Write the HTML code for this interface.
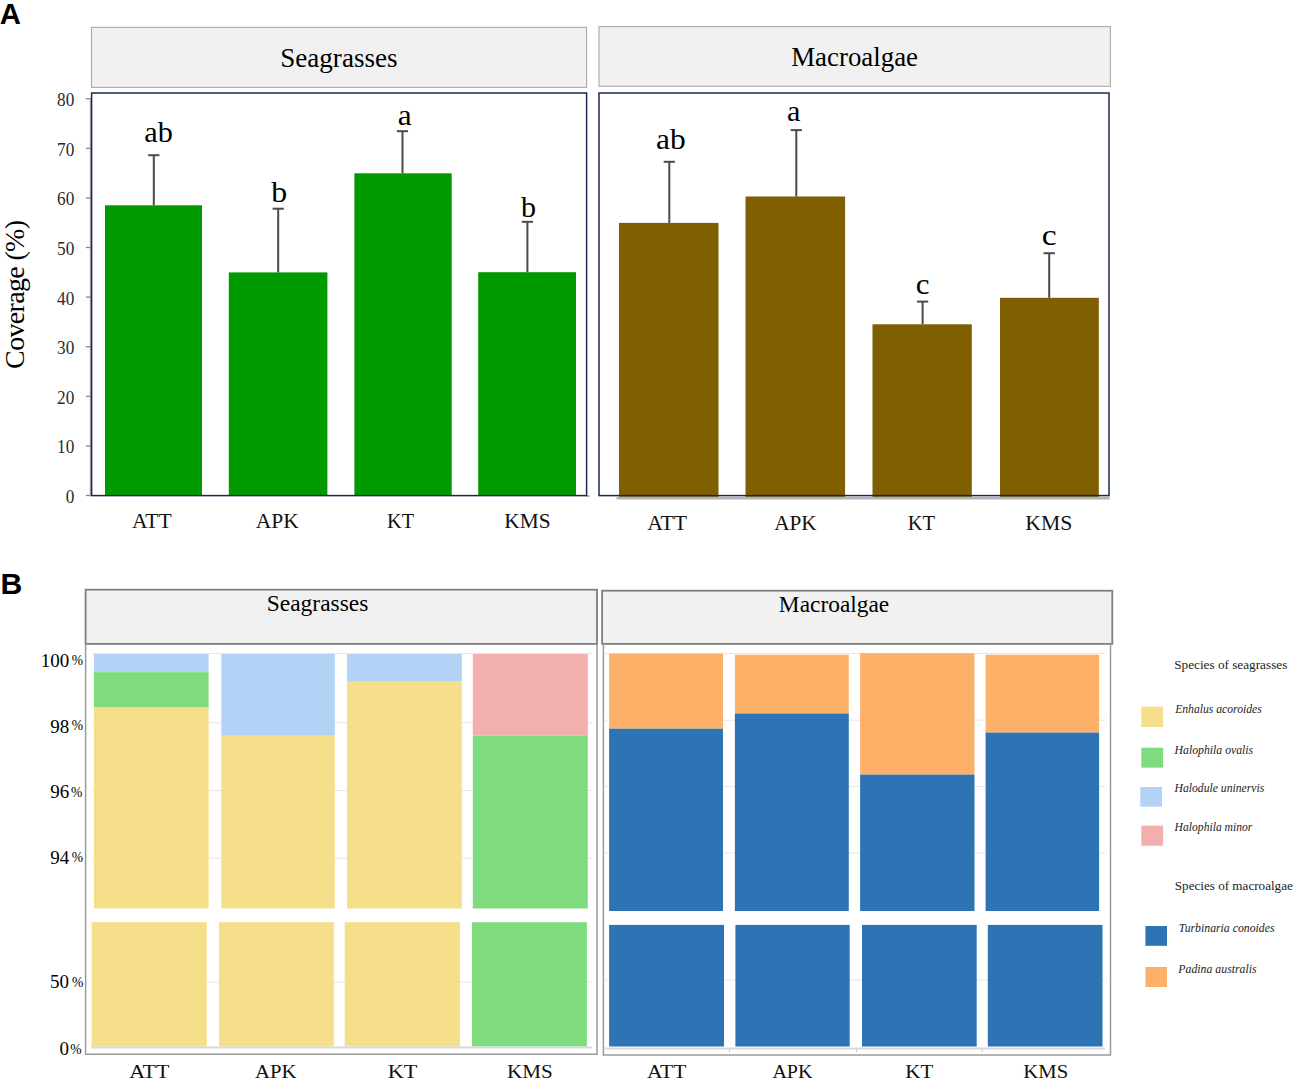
<!DOCTYPE html>
<html><head><meta charset="utf-8"><title>Figure</title>
<style>
html,body{margin:0;padding:0;background:#fff;}
body{width:1295px;height:1082px;overflow:hidden;font-family:"Liberation Serif",serif;}
svg{display:block;}
</style></head>
<body>
<svg width="1295" height="1082" viewBox="0 0 1295 1082">
<rect x="0" y="0" width="1295" height="1082" fill="#fff"/>
<text x="-0.30" y="24.10" font-family="'Liberation Sans', sans-serif" font-size="29.3" fill="#000" text-anchor="start" font-weight="bold">A</text>
<rect x="91.50" y="27.40" width="495.10" height="60.00" fill="#f1f1f1" stroke="#aca8a8" stroke-width="1.1"/>
<rect x="599.00" y="26.60" width="511.40" height="59.70" fill="#f1f1f1" stroke="#aca8a8" stroke-width="1.1"/>
<text id="s0" x="280.32" y="67.10" font-family="'Liberation Serif', serif" font-size="27.3" fill="#000" text-anchor="start"  textLength="117.15" lengthAdjust="spacingAndGlyphs">Seagrasses</text>
<text id="s1" x="791.19" y="66.20" font-family="'Liberation Serif', serif" font-size="27.1" fill="#000" text-anchor="start"  textLength="126.87" lengthAdjust="spacingAndGlyphs">Macroalgae</text>
<line x1="90.30" y1="98.50" x2="90.30" y2="496.00" stroke="#999" stroke-width="1" />
<line x1="85.80" y1="495.50" x2="90.50" y2="495.50" stroke="#888" stroke-width="1.3" />
<text transform="translate(74.3,502.90) scale(0.87,1)" font-family="'Liberation Serif', serif" font-size="19.8" fill="#2a2a2a" text-anchor="end">0</text>
<line x1="85.80" y1="445.90" x2="90.50" y2="445.90" stroke="#888" stroke-width="1.3" />
<text transform="translate(74.3,453.30) scale(0.87,1)" font-family="'Liberation Serif', serif" font-size="19.8" fill="#2a2a2a" text-anchor="end">10</text>
<line x1="85.80" y1="396.30" x2="90.50" y2="396.30" stroke="#888" stroke-width="1.3" />
<text transform="translate(74.3,403.70) scale(0.87,1)" font-family="'Liberation Serif', serif" font-size="19.8" fill="#2a2a2a" text-anchor="end">20</text>
<line x1="85.80" y1="346.70" x2="90.50" y2="346.70" stroke="#888" stroke-width="1.3" />
<text transform="translate(74.3,354.10) scale(0.87,1)" font-family="'Liberation Serif', serif" font-size="19.8" fill="#2a2a2a" text-anchor="end">30</text>
<line x1="85.80" y1="297.10" x2="90.50" y2="297.10" stroke="#888" stroke-width="1.3" />
<text transform="translate(74.3,304.50) scale(0.87,1)" font-family="'Liberation Serif', serif" font-size="19.8" fill="#2a2a2a" text-anchor="end">40</text>
<line x1="85.80" y1="247.50" x2="90.50" y2="247.50" stroke="#888" stroke-width="1.3" />
<text transform="translate(74.3,254.90) scale(0.87,1)" font-family="'Liberation Serif', serif" font-size="19.8" fill="#2a2a2a" text-anchor="end">50</text>
<line x1="85.80" y1="197.90" x2="90.50" y2="197.90" stroke="#888" stroke-width="1.3" />
<text transform="translate(74.3,205.30) scale(0.87,1)" font-family="'Liberation Serif', serif" font-size="19.8" fill="#2a2a2a" text-anchor="end">60</text>
<line x1="85.80" y1="148.30" x2="90.50" y2="148.30" stroke="#888" stroke-width="1.3" />
<text transform="translate(74.3,155.70) scale(0.87,1)" font-family="'Liberation Serif', serif" font-size="19.8" fill="#2a2a2a" text-anchor="end">70</text>
<line x1="85.80" y1="98.70" x2="90.50" y2="98.70" stroke="#888" stroke-width="1.3" />
<text transform="translate(74.3,106.10) scale(0.87,1)" font-family="'Liberation Serif', serif" font-size="19.8" fill="#2a2a2a" text-anchor="end">80</text>
<text transform="translate(23.9,294.4) rotate(-90)" font-family="'Liberation Serif', serif" font-size="28" fill="#000" text-anchor="middle" textLength="149" lengthAdjust="spacing">Coverage (%)</text>
<rect x="105.00" y="205.30" width="97.00" height="290.20" fill="#009900" />
<line x1="153.80" y1="205.30" x2="153.80" y2="155.20" stroke="#4a4a4a" stroke-width="2" />
<line x1="148.20" y1="155.20" x2="159.40" y2="155.20" stroke="#4a4a4a" stroke-width="2" />
<text id="l0" x="144.27" y="142.00" font-family="'Liberation Serif', serif" font-size="30" fill="#000" text-anchor="start"  textLength="28.56" lengthAdjust="spacingAndGlyphs">ab</text>
<rect x="228.80" y="272.40" width="98.60" height="223.10" fill="#009900" />
<line x1="278.20" y1="272.40" x2="278.20" y2="208.70" stroke="#4a4a4a" stroke-width="2" />
<line x1="272.60" y1="208.70" x2="283.80" y2="208.70" stroke="#4a4a4a" stroke-width="2" />
<text id="l1" x="271.15" y="202.00" font-family="'Liberation Serif', serif" font-size="30" fill="#000" text-anchor="start"  textLength="15.93" lengthAdjust="spacingAndGlyphs">b</text>
<rect x="354.40" y="173.30" width="97.30" height="322.20" fill="#009900" />
<line x1="402.50" y1="173.30" x2="402.50" y2="131.20" stroke="#4a4a4a" stroke-width="2" />
<line x1="396.90" y1="131.20" x2="408.10" y2="131.20" stroke="#4a4a4a" stroke-width="2" />
<text id="l2" x="397.85" y="124.50" font-family="'Liberation Serif', serif" font-size="30" fill="#000" text-anchor="start"  textLength="13.95" lengthAdjust="spacingAndGlyphs">a</text>
<rect x="478.20" y="272.20" width="97.80" height="223.30" fill="#009900" />
<line x1="527.40" y1="272.20" x2="527.40" y2="221.80" stroke="#4a4a4a" stroke-width="2" />
<line x1="521.80" y1="221.80" x2="533.00" y2="221.80" stroke="#4a4a4a" stroke-width="2" />
<text id="l3" x="521.01" y="216.50" font-family="'Liberation Serif', serif" font-size="30" fill="#000" text-anchor="start"  textLength="15.04" lengthAdjust="spacingAndGlyphs">b</text>
<line x1="586.00" y1="496.00" x2="589.60" y2="496.00" stroke="#a0a0a0" stroke-width="1.4" />
<rect x="91.60" y="93.00" width="495.00" height="402.60" fill="none" stroke="#172850" stroke-width="1.5"/>
<line x1="616.50" y1="498.30" x2="1109.50" y2="498.30" stroke="#b3b3b3" stroke-width="2.4" />
<rect x="619.00" y="222.90" width="99.50" height="273.90" fill="#7f5f00" />
<line x1="669.30" y1="222.90" x2="669.30" y2="161.80" stroke="#4a4a4a" stroke-width="2" />
<line x1="663.70" y1="161.80" x2="674.90" y2="161.80" stroke="#4a4a4a" stroke-width="2" />
<text id="l4" x="656.02" y="149.00" font-family="'Liberation Serif', serif" font-size="30" fill="#000" text-anchor="start"  textLength="29.62" lengthAdjust="spacingAndGlyphs">ab</text>
<rect x="745.50" y="196.50" width="99.60" height="300.30" fill="#7f5f00" />
<line x1="796.30" y1="196.50" x2="796.30" y2="130.10" stroke="#4a4a4a" stroke-width="2" />
<line x1="790.70" y1="130.10" x2="801.90" y2="130.10" stroke="#4a4a4a" stroke-width="2" />
<text id="l5" x="787.05" y="120.50" font-family="'Liberation Serif', serif" font-size="30" fill="#000" text-anchor="start"  textLength="13.40" lengthAdjust="spacingAndGlyphs">a</text>
<rect x="872.50" y="324.30" width="99.30" height="172.50" fill="#7f5f00" />
<line x1="922.60" y1="324.30" x2="922.60" y2="301.60" stroke="#4a4a4a" stroke-width="2" />
<line x1="917.00" y1="301.60" x2="928.20" y2="301.60" stroke="#4a4a4a" stroke-width="2" />
<text id="l6" x="915.85" y="293.60" font-family="'Liberation Serif', serif" font-size="30" fill="#000" text-anchor="start"  textLength="13.74" lengthAdjust="spacingAndGlyphs">c</text>
<rect x="1000.00" y="297.80" width="98.80" height="199.00" fill="#7f5f00" />
<line x1="1049.20" y1="297.80" x2="1049.20" y2="253.20" stroke="#4a4a4a" stroke-width="2" />
<line x1="1043.60" y1="253.20" x2="1054.80" y2="253.20" stroke="#4a4a4a" stroke-width="2" />
<text id="l7" x="1041.69" y="245.00" font-family="'Liberation Serif', serif" font-size="30" fill="#000" text-anchor="start"  textLength="14.81" lengthAdjust="spacingAndGlyphs">c</text>
<rect x="599.00" y="93.00" width="510.00" height="402.60" fill="none" stroke="#172850" stroke-width="1.5"/>
<text id="ax0" x="132.10" y="527.90" font-family="'Liberation Serif', serif" font-size="20.5" fill="#111" text-anchor="start"  textLength="39.49" lengthAdjust="spacingAndGlyphs">ATT</text>
<text id="ax1" x="255.69" y="527.90" font-family="'Liberation Serif', serif" font-size="20.5" fill="#111" text-anchor="start"  textLength="43.10" lengthAdjust="spacingAndGlyphs">APK</text>
<text id="ax2" x="387.00" y="527.90" font-family="'Liberation Serif', serif" font-size="20.5" fill="#111" text-anchor="start"  textLength="27.02" lengthAdjust="spacingAndGlyphs">KT</text>
<text id="ax3" x="504.24" y="527.90" font-family="'Liberation Serif', serif" font-size="20.5" fill="#111" text-anchor="start"  textLength="46.27" lengthAdjust="spacingAndGlyphs">KMS</text>
<text id="ax4" x="647.22" y="530.00" font-family="'Liberation Serif', serif" font-size="20.5" fill="#111" text-anchor="start"  textLength="39.87" lengthAdjust="spacingAndGlyphs">ATT</text>
<text id="ax5" x="774.22" y="530.00" font-family="'Liberation Serif', serif" font-size="20.5" fill="#111" text-anchor="start"  textLength="42.48" lengthAdjust="spacingAndGlyphs">APK</text>
<text id="ax6" x="907.66" y="530.00" font-family="'Liberation Serif', serif" font-size="20.5" fill="#111" text-anchor="start"  textLength="27.39" lengthAdjust="spacingAndGlyphs">KT</text>
<text id="ax7" x="1025.38" y="530.00" font-family="'Liberation Serif', serif" font-size="20.5" fill="#111" text-anchor="start"  textLength="46.97" lengthAdjust="spacingAndGlyphs">KMS</text>
<text x="0.40" y="594.30" font-family="'Liberation Sans', sans-serif" font-size="30.2" fill="#000" text-anchor="start" font-weight="bold">B</text>
<rect x="85.60" y="589.70" width="511.40" height="54.20" fill="#f1f1f1" stroke="#7f7f7f" stroke-width="1.8"/>
<rect x="602.10" y="590.70" width="510.20" height="53.20" fill="#f1f1f1" stroke="#7f7f7f" stroke-width="1.8"/>
<text id="s2" x="266.78" y="611.30" font-family="'Liberation Serif', serif" font-size="23.2" fill="#000" text-anchor="start"  textLength="101.58" lengthAdjust="spacingAndGlyphs">Seagrasses</text>
<text id="s3" x="778.89" y="612.40" font-family="'Liberation Serif', serif" font-size="23.1" fill="#000" text-anchor="start"  textLength="110.32" lengthAdjust="spacingAndGlyphs">Macroalgae</text>
<line x1="92.00" y1="653.50" x2="592.00" y2="653.50" stroke="#e6e6e6" stroke-width="1" />
<line x1="92.00" y1="722.80" x2="592.00" y2="722.80" stroke="#e6e6e6" stroke-width="1" />
<line x1="92.00" y1="790.60" x2="592.00" y2="790.60" stroke="#e6e6e6" stroke-width="1" />
<line x1="92.00" y1="858.20" x2="592.00" y2="858.20" stroke="#e6e6e6" stroke-width="1" />
<line x1="92.00" y1="982.00" x2="592.00" y2="982.00" stroke="#e6e6e6" stroke-width="1" />
<line x1="605.00" y1="653.50" x2="1105.00" y2="653.50" stroke="#e6e6e6" stroke-width="1" />
<line x1="605.00" y1="720.20" x2="1105.00" y2="720.20" stroke="#e6e6e6" stroke-width="1" />
<line x1="605.00" y1="786.60" x2="1105.00" y2="786.60" stroke="#e6e6e6" stroke-width="1" />
<line x1="605.00" y1="853.00" x2="1105.00" y2="853.00" stroke="#e6e6e6" stroke-width="1" />
<line x1="605.00" y1="980.00" x2="1105.00" y2="980.00" stroke="#e6e6e6" stroke-width="1" />
<line x1="729.40" y1="1048.00" x2="729.40" y2="1052.50" stroke="#c8c8c8" stroke-width="1" />
<line x1="856.60" y1="1048.00" x2="856.60" y2="1052.50" stroke="#c8c8c8" stroke-width="1" />
<line x1="982.10" y1="1048.00" x2="982.10" y2="1052.50" stroke="#c8c8c8" stroke-width="1" />
<rect x="93.90" y="654.00" width="114.70" height="18.20" fill="#b3d3f6" />
<rect x="93.90" y="672.20" width="114.70" height="35.30" fill="#7edc7e" />
<rect x="93.90" y="707.50" width="114.70" height="201.00" fill="#f6df8a" />
<rect x="91.70" y="922.20" width="115.00" height="124.30" fill="#f6df8a" />
<rect x="221.30" y="654.00" width="113.50" height="81.70" fill="#b3d3f6" />
<rect x="221.30" y="735.70" width="113.50" height="172.80" fill="#f6df8a" />
<rect x="219.00" y="922.20" width="114.80" height="124.30" fill="#f6df8a" />
<rect x="347.00" y="654.00" width="114.80" height="27.00" fill="#b3d3f6" />
<rect x="347.00" y="681.00" width="114.80" height="227.50" fill="#f6df8a" />
<rect x="344.70" y="922.20" width="115.20" height="124.30" fill="#f6df8a" />
<rect x="472.80" y="654.00" width="115.00" height="81.70" fill="#f3aeae" />
<rect x="472.80" y="735.70" width="115.00" height="172.80" fill="#7edc7e" />
<rect x="472.00" y="922.20" width="114.90" height="124.30" fill="#7edc7e" />
<line x1="91.00" y1="1047.60" x2="592.00" y2="1047.60" stroke="#d9d9d9" stroke-width="2" />
<rect x="609.10" y="653.70" width="113.90" height="75.00" fill="#fdb068" />
<rect x="609.10" y="728.70" width="113.90" height="182.30" fill="#2e74b5" />
<rect x="609.10" y="924.90" width="114.90" height="121.60" fill="#2e74b5" />
<rect x="734.90" y="654.70" width="113.90" height="58.80" fill="#fdb068" />
<rect x="734.90" y="713.50" width="113.90" height="197.50" fill="#2e74b5" />
<rect x="735.40" y="924.90" width="114.30" height="121.60" fill="#2e74b5" />
<rect x="860.10" y="653.20" width="114.40" height="121.40" fill="#fdb068" />
<rect x="860.10" y="774.60" width="114.40" height="136.40" fill="#2e74b5" />
<rect x="862.00" y="924.90" width="114.70" height="121.60" fill="#2e74b5" />
<rect x="985.60" y="654.70" width="113.50" height="77.90" fill="#fdb068" />
<rect x="985.60" y="732.60" width="113.50" height="178.40" fill="#2e74b5" />
<rect x="987.80" y="924.90" width="114.70" height="121.60" fill="#2e74b5" />
<line x1="605.00" y1="1048.60" x2="1105.00" y2="1048.60" stroke="#d9d9d9" stroke-width="2" />
<polyline points="85.6,643.9 85.6,1054.2 597.0,1054.2 597.0,643.9" fill="none" stroke="#9a9a9a" stroke-width="1.5"/>
<polyline points="603.4,643.9 603.4,1055.0 1110.5,1055.0 1110.5,643.9" fill="none" stroke="#9a9a9a" stroke-width="1.5"/>
<text x="69.30" y="666.80" font-family="'Liberation Serif', serif" font-size="19" fill="#000" text-anchor="end" >100</text>
<text x="71.70" y="665.40" font-family="'Liberation Serif', serif" font-size="13.6" fill="#000" text-anchor="start" >%</text>
<text x="69.30" y="732.80" font-family="'Liberation Serif', serif" font-size="19" fill="#000" text-anchor="end" >98</text>
<text x="71.70" y="730.40" font-family="'Liberation Serif', serif" font-size="13.6" fill="#000" text-anchor="start" >%</text>
<text x="69.30" y="797.70" font-family="'Liberation Serif', serif" font-size="19" fill="#000" text-anchor="end" >96</text>
<text x="70.90" y="797.40" font-family="'Liberation Serif', serif" font-size="13.6" fill="#000" text-anchor="start" >%</text>
<text x="69.30" y="863.50" font-family="'Liberation Serif', serif" font-size="19" fill="#000" text-anchor="end" >94</text>
<text x="71.70" y="862.20" font-family="'Liberation Serif', serif" font-size="13.6" fill="#000" text-anchor="start" >%</text>
<text x="69.00" y="987.80" font-family="'Liberation Serif', serif" font-size="19" fill="#000" text-anchor="end" >50</text>
<text x="72.00" y="986.80" font-family="'Liberation Serif', serif" font-size="13.6" fill="#000" text-anchor="start" >%</text>
<text x="69.00" y="1054.70" font-family="'Liberation Serif', serif" font-size="19" fill="#000" text-anchor="end" >0</text>
<text x="70.30" y="1054.00" font-family="'Liberation Serif', serif" font-size="13.6" fill="#000" text-anchor="start" >%</text>
<text id="bx0" x="129.20" y="1077.80" font-family="'Liberation Serif', serif" font-size="18.8" fill="#111" text-anchor="start"  textLength="40.26" lengthAdjust="spacingAndGlyphs">ATT</text>
<text id="bx1" x="255.09" y="1077.80" font-family="'Liberation Serif', serif" font-size="18.8" fill="#111" text-anchor="start"  textLength="41.41" lengthAdjust="spacingAndGlyphs">APK</text>
<text id="bx2" x="387.74" y="1077.80" font-family="'Liberation Serif', serif" font-size="18.8" fill="#111" text-anchor="start"  textLength="29.72" lengthAdjust="spacingAndGlyphs">KT</text>
<text id="bx3" x="506.96" y="1077.80" font-family="'Liberation Serif', serif" font-size="18.8" fill="#111" text-anchor="start"  textLength="45.72" lengthAdjust="spacingAndGlyphs">KMS</text>
<text id="bx4" x="646.90" y="1077.80" font-family="'Liberation Serif', serif" font-size="18.8" fill="#111" text-anchor="start"  textLength="39.40" lengthAdjust="spacingAndGlyphs">ATT</text>
<text id="bx5" x="772.40" y="1077.80" font-family="'Liberation Serif', serif" font-size="18.8" fill="#111" text-anchor="start"  textLength="40.10" lengthAdjust="spacingAndGlyphs">APK</text>
<text id="bx6" x="905.29" y="1077.80" font-family="'Liberation Serif', serif" font-size="18.8" fill="#111" text-anchor="start"  textLength="27.92" lengthAdjust="spacingAndGlyphs">KT</text>
<text id="bx7" x="1023.36" y="1077.80" font-family="'Liberation Serif', serif" font-size="18.8" fill="#111" text-anchor="start"  textLength="44.89" lengthAdjust="spacingAndGlyphs">KMS</text>
<text id="g0" x="1174.19" y="669.20" font-family="'Liberation Serif', serif" font-size="13.1" fill="#222" text-anchor="start"  textLength="113.12" lengthAdjust="spacingAndGlyphs">Species of seagrasses</text>
<rect x="1141.30" y="706.70" width="21.80" height="20.30" fill="#f6df8a" />
<text id="g1" x="1175.18" y="712.80" font-family="'Liberation Serif', serif" font-size="11.5" fill="#222" text-anchor="start" font-style="italic" textLength="86.53" lengthAdjust="spacingAndGlyphs">Enhalus acoroides</text>
<rect x="1141.30" y="747.70" width="21.80" height="19.90" fill="#7edc7e" />
<text id="g2" x="1174.59" y="753.80" font-family="'Liberation Serif', serif" font-size="11.5" fill="#222" text-anchor="start" font-style="italic" textLength="78.62" lengthAdjust="spacingAndGlyphs">Halophila ovalis</text>
<rect x="1140.30" y="787.00" width="21.70" height="19.70" fill="#b3d3f6" />
<text id="g3" x="1174.59" y="792.40" font-family="'Liberation Serif', serif" font-size="11.5" fill="#222" text-anchor="start" font-style="italic" textLength="89.61" lengthAdjust="spacingAndGlyphs">Halodule uninervis</text>
<rect x="1141.30" y="825.60" width="21.80" height="20.10" fill="#f3aeae" />
<text id="g4" x="1174.59" y="831.00" font-family="'Liberation Serif', serif" font-size="11.5" fill="#222" text-anchor="start" font-style="italic" textLength="77.82" lengthAdjust="spacingAndGlyphs">Halophila minor</text>
<text id="g5" x="1174.80" y="889.70" font-family="'Liberation Serif', serif" font-size="13.15" fill="#222" text-anchor="start"  textLength="118.02" lengthAdjust="spacingAndGlyphs">Species of macroalgae</text>
<rect x="1145.40" y="926.00" width="21.60" height="19.80" fill="#2e74b5" />
<text id="g6" x="1178.79" y="931.60" font-family="'Liberation Serif', serif" font-size="11.6" fill="#222" text-anchor="start" font-style="italic" textLength="95.69" lengthAdjust="spacingAndGlyphs">Turbinaria conoides</text>
<rect x="1145.40" y="967.00" width="21.60" height="20.00" fill="#fdb068" />
<text id="g7" x="1178.28" y="972.60" font-family="'Liberation Serif', serif" font-size="11.6" fill="#222" text-anchor="start" font-style="italic" textLength="78.41" lengthAdjust="spacingAndGlyphs">Padina australis</text>
</svg>
</body></html>
